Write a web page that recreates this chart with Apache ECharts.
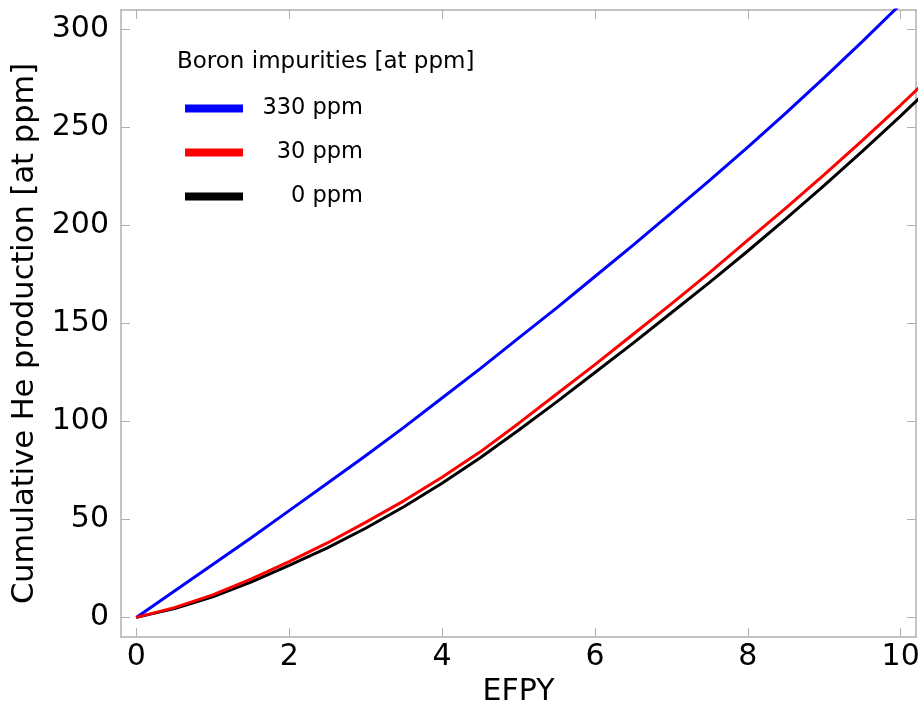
<!DOCTYPE html>
<html>
<head>
<meta charset="utf-8">
<script src="https://cdn.jsdelivr.net/npm/echarts@6/dist/echarts.min.js"></script>
<style>
html, body { margin: 0; padding: 0; background: #fff; }
#main { width: 923px; height: 708px; }
</style>
</head>
<body>
<div id="main"></div>
<script>
// EFPY values
var efpy = [0, 0.5, 1, 1.5, 2, 2.5, 3, 3.5, 4, 4.5, 5, 5.5, 6, 6.5, 7, 7.5, 8, 8.5, 9, 9.5, 10, 10.5];
// cumulative He production [at ppm]
var he330 = [0, 13.5, 27, 40.5, 54.5, 68.5, 82.5, 97, 112, 127, 142.5, 158, 174, 190, 206.5, 223, 240, 257.5, 275.5, 294, 313, 332];
var he30 = [0, 5, 11.5, 19.5, 28.5, 38, 48.5, 59.5, 71.5, 84.5, 99, 114, 129, 144.5, 160, 176, 192.5, 209, 226, 243.5, 261.5, 280];
var he0 = [0, 4.5, 10.5, 18, 26.5, 35.5, 45.5, 56.5, 68.5, 81.5, 95.5, 110, 125, 140, 155.5, 171, 187, 203.5, 220.5, 238, 256, 274.5];
var xTicks = [0, 2, 4, 6, 8, 10];
var yTicks = [0, 50, 100, 150, 200, 250, 300];

function pairs(ys) {
    var out = [];
    for (var i = 0; i < efpy.length; i++) {
        out.push([efpy[i], ys[i]]);
    }
    return out;
}

var font = 'DejaVu Sans';
var axisGray = '#b0b0b0';

function xAxisCfg(pos, showLabel) {
    return {
        type: 'value',
        position: pos,
        min: -0.2,
        max: 10.2,
        name: showLabel ? 'EFPY' : '',
        nameLocation: 'middle',
        nameGap: 39,
        nameTextStyle: { fontFamily: font, fontSize: 30, color: '#000' },
        splitLine: { show: false },
        axisLine: { show: true, onZero: false, lineStyle: { color: axisGray, width: 1.5 } },
        axisTick: { show: true, inside: true, length: 9, customValues: xTicks, lineStyle: { color: axisGray } },
        axisLabel: { show: showLabel, customValues: xTicks, margin: 5, fontFamily: font, fontSize: 30, color: '#000' }
    };
}

function yAxisCfg(pos, showLabel) {
    return {
        type: 'value',
        position: pos,
        min: -10,
        max: 310,
        name: showLabel ? 'Cumulative He production [at ppm]' : '',
        nameLocation: 'middle',
        nameGap: 78,
        nameTextStyle: { fontFamily: font, fontSize: 30.5, color: '#000', padding: [0, 20, 0, 0] },
        splitLine: { show: false },
        axisLine: { show: true, onZero: false, lineStyle: { color: axisGray, width: 1.5 } },
        axisTick: { show: true, inside: true, length: 9, customValues: yTicks, lineStyle: { color: axisGray } },
        axisLabel: { show: showLabel, customValues: yTicks, margin: 12, fontFamily: font, fontSize: 30, color: '#000' }
    };
}

var myChart = echarts.init(document.getElementById('main'));
myChart.setOption({
    animation: false,
    backgroundColor: '#fff',
    grid: { left: 121, right: 7, top: 10, bottom: 71, outerBoundsMode: 'none' },
    xAxis: [xAxisCfg('bottom', true), xAxisCfg('top', false)],
    yAxis: [yAxisCfg('left', true), yAxisCfg('right', false)],
    legend: {
        orient: 'vertical',
        left: 185,
        top: 97,
        padding: 0,
        icon: 'rect',
        itemWidth: 58,
        itemHeight: 8,
        itemGap: 21,
        data: ['330 ppm', '30 ppm', '0 ppm'],
        formatter: function (name) {
            return '{a|' + name + '}';
        },
        textStyle: {
            fontFamily: font, fontSize: 22.5, color: '#000',
            rich: { a: { width: 115, align: 'right', fontFamily: font, fontSize: 22.5, color: '#000' } }
        }
    },
    graphic: [{
        type: 'text',
        left: 177,
        top: 51,
        style: { text: 'Boron impurities [at ppm]', fontFamily: font, fontSize: 23, fill: '#000' }
    }],
    series: [
        { name: '330 ppm', type: 'line', data: pairs(he330), showSymbol: false, color: '#0000ff', lineStyle: { width: 3 } },
        { name: '0 ppm', type: 'line', data: pairs(he0), showSymbol: false, color: '#000000', lineStyle: { width: 3 } },
        { name: '30 ppm', type: 'line', data: pairs(he30), showSymbol: false, color: '#ff0000', lineStyle: { width: 3 } }
    ]
});
</script>
</body>
</html>
